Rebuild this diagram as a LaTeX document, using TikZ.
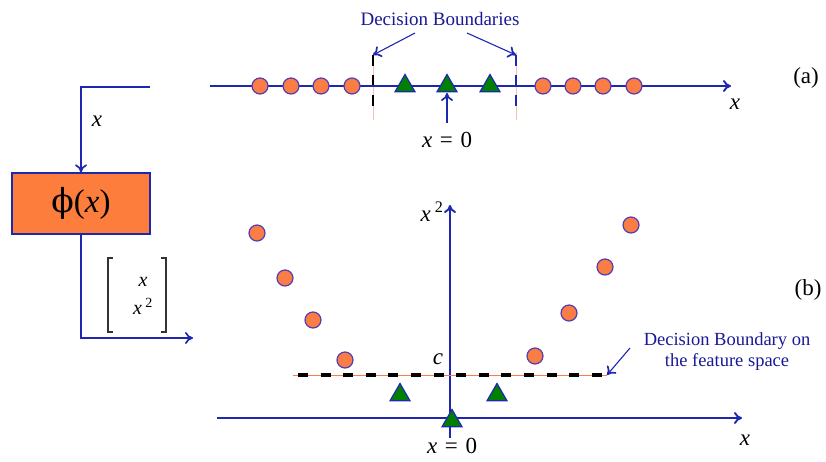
\documentclass[tikz,border=0pt]{standalone}
\usepackage{fontspec}
\setmainfont{Liberation Serif}
\newfontfamily\dvserif{DejaVu Serif}
\usetikzlibrary{shapes.geometric,arrows.meta}
\definecolor{lineblue}{RGB}{30,40,175}
\definecolor{dotfill}{RGB}{250,125,70}
\definecolor{boxfill}{RGB}{253,125,60}
\definecolor{trigreen}{RGB}{0,128,0}
\definecolor{txtblue}{RGB}{25,25,150}
\definecolor{dotedge}{RGB}{85,60,175}
\definecolor{palered}{RGB}{250,190,180}
\tikzset{
  dot/.style={circle,draw=dotedge,fill=dotfill,line width=1.2pt,minimum size=16pt,inner sep=0pt},
  tri/.style={regular polygon,regular polygon sides=3,draw=lineblue,fill=trigreen,line width=1.2pt,minimum size=23pt,inner sep=0pt},
  axis/.style={draw=lineblue,line width=1.9pt,-{To[length=8pt,width=12pt,line width=1.9pt]}},
  ptr/.style={draw=lineblue,line width=1.5pt,-{To[length=8pt,width=12pt,line width=1.7pt]}},
  lbl/.style={inner sep=0pt,font=\fontsize{23}{25}\selectfont},
  btxt/.style={inner sep=0pt,text=txtblue,font=\fontsize{19}{21}\selectfont,align=center},
  bound/.style={line width=2.8pt,dash pattern=on 11pt off 9pt},
  brk/.style={draw=black!80,line width=1.3pt},
}
\begin{document}
\begin{tikzpicture}[x=1pt,y=-1pt]
\useasboundingbox (0,0) rectangle (826,461);
% ---------- (a) ----------
\coordinate (a0) at (210,86);
\coordinate (a1) at (731,86);
\draw[palered,line width=0.8pt] (373,52) -- (373,120);
\draw[palered,line width=0.8pt] (516,52) -- (516,120);
\coordinate (bl0) at (373,55); \coordinate (bl1) at (373,112);
\coordinate (br0) at (516,55); \coordinate (br1) at (516,112);
\draw[bound,black] (bl0) -- (bl1);
\draw[bound,lineblue] (br0) -- (br1);
\draw[axis] (a0) -- (a1);
\foreach \i/\x in {1/260,2/291,3/321,4/352,5/543,6/573,7/603,8/634}
  \node[dot] (ta\i) at (\x,86) {};
\node[tri] (tt1) at (405,86) {};
\node[tri] (tt2) at (447,86) {};
\node[tri] (tt3) at (490,86) {};
\node[btxt] (dbs) at (440,19) {Decision Boundaries};
\draw[ptr,line width=1.1pt] (415,33) -- (bl0);
\draw[ptr,line width=1.1pt] (467,33) -- (br0);
\node[lbl] (xz1) at (447,140) {\textit{x}\,\,=\,\,0};
\coordinate (xa) at (447,123);
\draw[ptr,line width=1.9pt] (xa) -- (447,93);
\node[lbl] (xl1) at (735,104) {\textit{x}};
\node[lbl] (la) at (806,78) {(a)};
% ---------- mapping ----------
\coordinate (s0) at (150,87);
\node[draw=lineblue,fill=boxfill,line width=1.3pt,minimum width=138pt,minimum height=61pt,inner sep=0pt,font=\fontsize{33}{36}\selectfont] (phi) at (81,203.5) {{\dvserif ϕ}(\textit{x})};
\draw[ptr] (s0) -| (phi.north);
\node[lbl] (xin) at (97,121) {\textit{x}};
\coordinate (o1) at (193,338);
\draw[ptr] (phi.south) |- (o1);
\node[inner sep=0pt,font=\fontsize{20}{28}\selectfont,align=center] (vec) at (143,296) {\textit{x}\\\textit{x}\,\textsuperscript{2}};
\draw[brk] (113,258) -- (108,258) -- (108,332) -- (113,332);
\draw[brk] (161,258) -- (166,258) -- (166,332) -- (161,332);
% ---------- (b) ----------
\coordinate (b0) at (217,418);
\coordinate (b1) at (742,418);
\draw[axis] (b0) -- (b1);
\coordinate (v0) at (450,438);
\coordinate (v1) at (450,205);
\draw[axis,line width=1.2pt] (v0) -- (v1);
\coordinate (d0) at (293,375);
\coordinate (d1) at (607,375);
\draw[dotfill,line width=1pt] (d0) -- (d1);
\draw[bound,black,line width=3.2pt,dash pattern=on 10pt off 12.6pt] (298,375) -- (d1);
\foreach \i/\x/\y in {1/257/233,2/285/278,3/313/320,4/345/360,5/535/356,6/569/313,7/605/267,8/631/225}
  \node[dot] (bd\i) at (\x,\y) {};
\node[tri] (bt1) at (400,395) {};
\node[tri] (bt2) at (497,395) {};
\node[tri] (bt3) at (452,421) {};
\node[lbl] (cl) at (438,359) {\textit{c}};
\node[lbl] (x2l) at (432,212) {\textit{x}\,\textsuperscript{2}};
\node[lbl] (xz2) at (452,446) {\textit{x}\,\,=\,\,0};
\node[lbl] (xl2) at (745,440) {\textit{x}};
\node[lbl] (lb) at (808,290) {(b)};
\node[btxt,font=\fontsize{18.5}{21}\selectfont] (dbf) at (727,352) {Decision Boundary on\\the feature space};
\draw[ptr,line width=1.1pt] (630,348) -- (d1);
\end{tikzpicture}
\end{document}
